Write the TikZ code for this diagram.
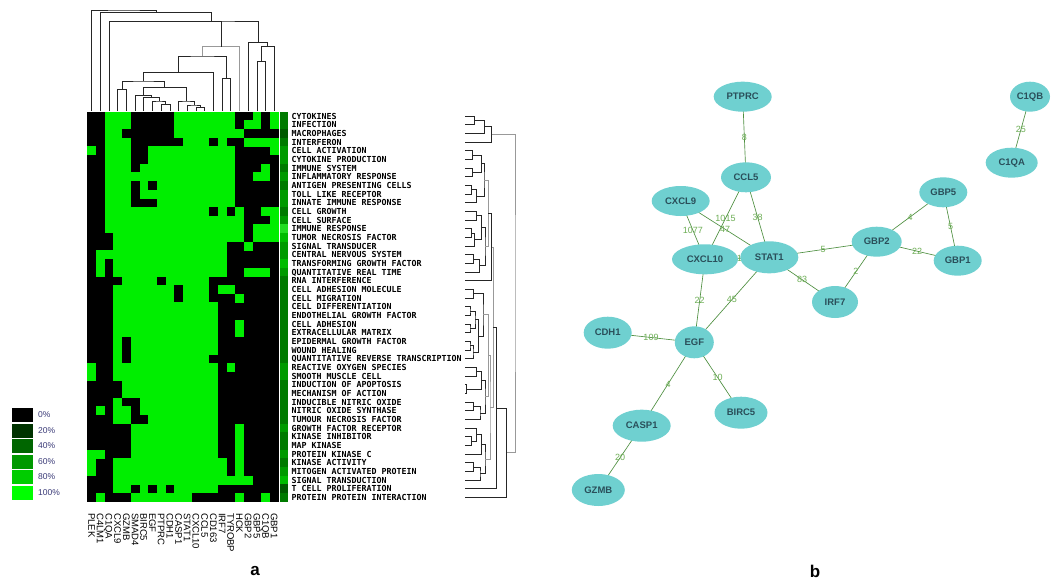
\documentclass[tikz,border=0pt]{standalone}
\usepackage{fontspec}
\setmainfont{Liberation Sans}
\newfontfamily\hmfont{DejaVu Sans Mono}
\usetikzlibrary{calc,shapes.geometric}
\definecolor{hgreen}{HTML}{00EE00}
\definecolor{cb1}{HTML}{005A00}
\definecolor{cb2}{HTML}{007A00}
\definecolor{cb3}{HTML}{009A00}
\definecolor{cb4}{HTML}{00BB00}
\definecolor{cb5}{HTML}{22DD22}
\definecolor{lg1}{HTML}{003300}
\definecolor{lg2}{HTML}{006600}
\definecolor{lg3}{HTML}{009900}
\definecolor{lg4}{HTML}{00CC00}
\definecolor{lg5}{HTML}{00FF00}
\definecolor{nodecol}{HTML}{6FD0D0}
\definecolor{nodetext}{HTML}{2A4F5A}
\definecolor{edgecol}{HTML}{4E8F40}
\definecolor{labgreen}{HTML}{6DAE55}
\definecolor{legtext}{HTML}{3B3B78}
\pgfdeclarelayer{bg}
\pgfsetlayers{bg,main}
\newcommand\hrow[2]{\foreach \a/\b in {#2}{\fill[hgreen] ({87.3+8.7*(\a-1)},{111.7+8.667*(#1-1)}) rectangle ({87.3+8.7*\b},{111.7+8.667*#1+0.25});}}
\newcommand\dcol[5][]{\path let \p1=(#3), \p2=(#4) in coordinate (#2) at ({0.5*\x1+0.5*\x2},{-#5pt});\draw[dl,#1] (#3) |- (#2) -| (#4);}
\newcommand\drow[5][]{\path let \p1=(#3), \p2=(#4) in coordinate (#2) at ({#5pt},{0.5*\y1+0.5*\y2});\draw[dl,#1] (#3) -| (#2) |- (#4);}
\begin{document}
\begin{tikzpicture}[x=1pt,y=-1pt,
  dl/.style={draw=black!85,line width=0.75pt},
  dg/.style={draw=black!40},
  dthick/.style={line width=1.4pt},
  rowlab/.style={anchor=west,inner sep=0pt,font=\hmfont\bfseries\fontsize{8.3}{9}\selectfont,text height=6pt,text depth=0pt},
  collab/.style={anchor=west,rotate=-90,inner sep=0pt,font=\fontsize{9.5}{10}\selectfont,text height=6.8pt,text depth=0pt},
  legtxt/.style={anchor=west,inner sep=0pt,font=\fontsize{8.5}{9}\selectfont,text=legtext},
  gene/.style={ellipse,fill=nodecol,text=nodetext,inner sep=0pt,font=\bfseries\fontsize{9.5}{10}\selectfont},
  link/.style={draw=edgecol,line width=0.65pt},
  elab/.style={midway,inner sep=0pt,text=labgreen,font=\fontsize{9}{10}\selectfont},
  panel/.style={font=\bfseries\fontsize{17}{18}\selectfont}]
\useasboundingbox (0,0) rectangle (1053,581);
% ---------------- heatmap ----------------
\fill[black] (87.3,111.7) rectangle (278.7,501.7);
\hrow{1}{3/5,11/17,20/20,22/22}
\hrow{2}{3/5,11/17,19/20,22/22}
\hrow{3}{3/4,11/18}
\hrow{4}{3/5,12/14,16/16,19/22}
\hrow{5}{1/1,3/5,8/17,22/22}
\hrow{6}{3/5,8/17}
\hrow{7}{3/5,7/17,21/21}
\hrow{8}{3/17,20/21}
\hrow{9}{3/5,7/7,9/17}
\hrow{10}{3/5,7/17}
\hrow{11}{3/5,9/17}
\hrow{12}{3/14,16/16,18/18,21/22}
\hrow{13}{3/18,22/22}
\hrow{14}{3/18,20/22}
\hrow{15}{4/18,20/22}
\hrow{16}{4/16,19/19}
\hrow{17}{2/16}
\hrow{18}{2/2,4/16}
\hrow{19}{2/2,4/16,19/21}
\hrow{20}{5/8,10/14}
\hrow{21}{4/10,12/14,16/17}
\hrow{22}{4/10,12/14,18/18}
\hrow{23}{4/15}
\hrow{24}{4/15}
\hrow{25}{4/15,18/18}
\hrow{26}{4/15,18/18}
\hrow{27}{4/4,6/15}
\hrow{28}{4/4,6/15}
\hrow{29}{4/4,6/14}
\hrow{30}{1/1,4/15,17/17}
\hrow{31}{1/1,4/15}
\hrow{32}{5/15}
\hrow{33}{5/15}
\hrow{34}{4/4,7/15}
\hrow{35}{2/2,4/5,7/15}
\hrow{36}{4/5,8/15}
\hrow{37}{6/15,18/18}
\hrow{38}{6/15,18/18}
\hrow{39}{6/15,18/18}
\hrow{40}{1/2,6/15,18/18}
\hrow{41}{1/1,4/16,18/18}
\hrow{42}{1/1,4/16,18/18}
\hrow{43}{4/19}
\hrow{44}{4/5,7/7,9/9,11/15}
\hrow{45}{2/2,6/12,18/18,21/21}
% side colour bar
\foreach \r/\c in {1/2,2/2,3/1,4/2,5/3,6/3,7/2,8/3,9/2,10/3,11/3,12/2,13/3,14/5,15/4,16/3,17/3,18/4,19/3,20/2,21/2,22/2,23/2,24/2,25/2,26/2,27/2,28/2,29/2,30/3,31/3,32/2,33/2,34/2,35/2,36/2,37/3,38/2,39/2,40/3,41/2,42/3,43/4,44/1,45/2}
  \fill[cb\c] (280,{111.7+8.667*(\r-1)}) rectangle (287.5,{111.7+8.667*\r+0.25});
% row labels
\foreach \t [count=\r] in {CYTOKINES,INFECTION,MACROPHAGES,INTERFERON,CELL ACTIVATION,CYTOKINE PRODUCTION,IMMUNE SYSTEM,INFLAMMATORY RESPONSE,ANTIGEN PRESENTING CELLS,TOLL LIKE RECEPTOR,INNATE IMMUNE RESPONSE,CELL GROWTH,CELL SURFACE,IMMUNE RESPONSE,TUMOR NECROSIS FACTOR,SIGNAL TRANSDUCER,CENTRAL NERVOUS SYSTEM,TRANSFORMING GROWTH FACTOR,QUANTITATIVE REAL TIME,RNA INTERFERENCE,CELL ADHESION MOLECULE,CELL MIGRATION,CELL DIFFERENTIATION,ENDOTHELIAL GROWTH FACTOR,CELL ADHESION,EXTRACELLULAR MATRIX,EPIDERMAL GROWTH FACTOR,WOUND HEALING,QUANTITATIVE REVERSE TRANSCRIPTION,REACTIVE OXYGEN SPECIES,SMOOTH MUSCLE CELL,INDUCTION OF APOPTOSIS,MECHANISM OF ACTION,INDUCIBLE NITRIC OXIDE,NITRIC OXIDE SYNTHASE,TUMOUR NECROSIS FACTOR,GROWTH FACTOR RECEPTOR,KINASE INHIBITOR,MAP KINASE,PROTEIN KINASE C,KINASE ACTIVITY,MITOGEN ACTIVATED PROTEIN,SIGNAL TRANSDUCTION,T CELL PROLIFERATION,PROTEIN PROTEIN INTERACTION}
  \node[rowlab] (rl\r) at (291.5,{116.03+8.667*(\r-1)}) {\t};
% column labels
\foreach \t [count=\k] in {PLEK,C4LM1,C1QA,CXCL9,GZMB,SMAD4,BIRC5,EGF,PTPRC,CDH1,CASP1,STAT1,CXCL10,CCL5,CD163,IRF7,TYROBP,HCK,GBP2,GBP5,C1QB,GBP1}
  \node[collab] (cl\k) at ({91.65+8.7*(\k-1)},513) {\t};
% ---------------- column dendrogram ----------------
\foreach \k in {1,...,22} \coordinate (t\k) at ({91.65+8.7*(\k-1)},111);
\dcol{kT}{t9}{t10}{104.3}
\dcol{kS}{t8}{kT}{101}
\dcol{kQ}{t7}{kS}{97.7}
\dcol{kU}{t6}{kQ}{95.5}
\dcol{k1314}{t13}{t14}{107.3}
\dcol{kV}{t12}{k1314}{105}
\dcol{kR}{t11}{kV}{101}
\dcol{kP}{kU}{kR}{87.3}
\dcol{kW}{t4}{t5}{89.3}
\dcol{kM}{kW}{kP}{81}
\dcol{kN}{kM}{t15}{72.3}
\dcol{kO}{t16}{t17}{78.3}
\dcol{kK}{kN}{kO}{56}
\dcol[dg]{kL}{kK}{t18}{46.7}
\dcol{k2021}{t20}{t21}{61.7}
\dcol{kZz}{k2021}{t22}{46.7}
\dcol{kY}{t19}{kZz}{42.3}
\dcol{kZ3}{t3}{kL}{21.3}
\dcol{kXY}{kZ3}{kY}{21}
\dcol{kZ2}{t2}{kXY}{12.3}
\dcol{kZ1}{t1}{kZ2}{10}
% ---------------- row dendrogram ----------------
\foreach \r in {1,...,45} \coordinate (r\r) at (465,{116.03+8.667*(\r-1)});
\drow{a1}{r1}{r2}{474.3}
\drow{a2}{a1}{r3}{484.3}
\drow{A}{a2}{r4}{491.7}
\drow{b1}{r5}{r6}{472.7}
\drow{b2}{r7}{r8}{472.7}
\drow{b3}{b1}{b2}{481.7}
\drow{b4}{r9}{r10}{471.7}
\drow{b5}{b4}{r11}{476.7}
\drow{b6}{b3}{b5}{484}
\drow{b7}{r12}{r13}{476.7}
\drow{b8}{r14}{r15}{471.7}
\drow{b9}{b8}{r16}{474.3}
\drow{b10}{b7}{b9}{481.7}
\drow{b11}{r17}{r18}{473.3}
\drow{b12}{b11}{r19}{479.3}
\drow{b13}{b10}{b12}{485}
\drow[dg]{b14}{b6}{b13}{488.3}
\drow[dthick]{B1}{b14}{r20}{491.7}
\drow{c1}{r21}{r22}{473.3}
\drow{c2}{r23}{r24}{470}
\drow{c3}{r25}{r26}{470}
\drow{c4}{c2}{c3}{475}
\drow{c5}{r27}{r28}{470}
\drow{c6}{c5}{r29}{473}
\drow{c7}{c4}{c6}{478.3}
\drow{c8}{c1}{c7}{483}
\drow{c9}{r30}{r31}{476.7}
\drow{c10}{r32}{r33}{466.5}
\drow{c11}{c9}{c10}{481.7}
\drow{c12}{r34}{r35}{473.3}
\drow{c13}{c12}{r36}{480}
\drow{c14}{c11}{c13}{485}
\drow[dg]{c15}{c8}{c14}{488.3}
\drow{c16}{r38}{r39}{471.7}
\drow{c17}{r37}{c16}{476.7}
\drow{c18}{c17}{r40}{481.7}
\drow{c19}{r41}{r42}{473.3}
\drow{c20}{c19}{r43}{480}
\drow{c21}{c18}{c20}{485}
\drow[dg]{B2}{c15}{c21}{490}
\drow[dg]{B}{B1}{B2}{493.3}
\drow{R44}{B}{r44}{496.7}
\drow{R45}{R44}{r45}{506.7}
\drow[dg]{Root}{A}{R45}{515}
% ---------------- legend ----------------
\fill[black] (12,408) rectangle (33,422);
\fill[lg1] (12,423.5) rectangle (33,437.5);
\fill[lg2] (12,439) rectangle (33,453);
\fill[lg3] (12,454.5) rectangle (33,468.5);
\fill[lg4] (12,470) rectangle (33,484);
\fill[lg5] (12,485.5) rectangle (33,499.5);
\node[legtxt] (lt0) at (38,415) {0\%};
\node[legtxt] (lt1) at (38,430.5) {20\%};
\node[legtxt] (lt2) at (38,446) {40\%};
\node[legtxt] (lt3) at (38,461.5) {60\%};
\node[legtxt] (lt4) at (38,477) {80\%};
\node[legtxt] (lt5) at (38,492.5) {100\%};
\node[panel] (pa) at (255,571) {a};
\node[panel] (pb) at (815,571) {b};
% ---------------- network ----------------
\node[gene,minimum width=58pt,minimum height=30pt] (PTPRC) at (742.7,96.7) {PTPRC};
\node[gene,minimum width=50pt,minimum height=30pt] (CCL5) at (746,177.3) {CCL5};
\node[gene,minimum width=58pt,minimum height=30pt] (CXCL9) at (680.7,201) {CXCL9};
\node[gene,minimum width=66pt,minimum height=30pt] (CXCL10) at (705,259.3) {CXCL10};
\node[gene,minimum width=58pt,minimum height=32pt] (STAT1) at (769.3,257.3) {STAT1};
\node[gene,minimum width=46pt,minimum height=32pt] (IRF7) at (835,302) {IRF7};
\node[gene,minimum width=50pt,minimum height=30pt] (GBP2) at (876.7,241.7) {GBP2};
\node[gene,minimum width=48pt,minimum height=30pt] (GBP5) at (943.3,192.3) {GBP5};
\node[gene,minimum width=48pt,minimum height=30pt] (GBP1) at (957.7,260.7) {GBP1};
\node[gene,minimum width=40pt,minimum height=30pt] (C1QB) at (1030,96.7) {C1QB};
\node[gene,minimum width=52pt,minimum height=30pt] (C1QA) at (1011.7,162.7) {C1QA};
\node[gene,minimum width=48pt,minimum height=32pt] (CDH1) at (607.7,332.7) {CDH1};
\node[gene,minimum width=39pt,minimum height=32pt] (EGF) at (694.3,342.3) {EGF};
\node[gene,minimum width=53pt,minimum height=32pt] (BIRC5) at (741,412.7) {BIRC5};
\node[gene,minimum width=58pt,minimum height=32pt] (CASP1) at (641.7,425.7) {CASP1};
\node[gene,minimum width=53pt,minimum height=32pt] (GZMB) at (598.3,490) {GZMB};
\begin{pgfonlayer}{bg}
\fill[white] (0,0) rectangle (1053,581);
\draw[link] (PTPRC.center) -- node[elab]{8} (CCL5.center);
\draw[link] (CCL5.center) -- node[elab]{1015} (CXCL10.center);
\draw[link] (CCL5.center) -- node[elab]{38} (STAT1.center);
\draw[link] (CXCL9.center) -- node[elab]{1077} (CXCL10.center);
\draw[link] (CXCL9.center) -- node[elab]{47} (STAT1.center);
\draw[link] (CXCL10.center) -- node[elab]{11} (STAT1.center);
\draw[link] (STAT1.center) -- node[elab]{5} (GBP2.center);
\draw[link] (STAT1.center) -- node[elab]{83} (IRF7.center);
\draw[link] (CXCL10.center) -- node[elab]{22} (EGF.center);
\draw[link] (STAT1.center) -- node[elab]{45} (EGF.center);
\draw[link] (CDH1.center) -- node[elab]{109} (EGF.center);
\draw[link] (EGF.center) -- node[elab]{4} (CASP1.center);
\draw[link] (EGF.center) -- node[elab]{10} (BIRC5.center);
\draw[link] (CASP1.center) -- node[elab]{20} (GZMB.center);
\draw[link] (GBP2.center) -- node[elab]{4} (GBP5.center);
\draw[link] (GBP5.center) -- node[elab]{5} (GBP1.center);
\draw[link] (GBP2.center) -- node[elab]{22} (GBP1.center);
\draw[link] (GBP2.center) -- node[elab]{2} (IRF7.center);
\draw[link] (C1QB.center) -- node[elab]{25} (C1QA.center);
\end{pgfonlayer}
\end{tikzpicture}
\end{document}
